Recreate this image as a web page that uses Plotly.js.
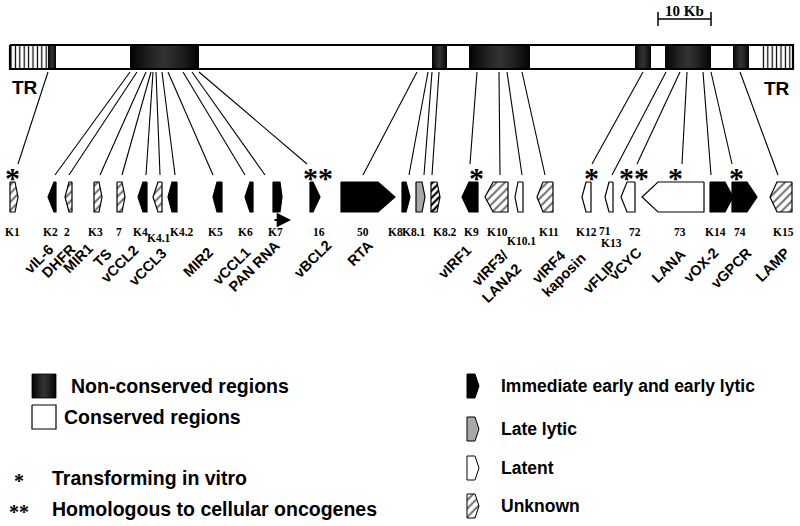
<!DOCTYPE html>
<html><head><meta charset="utf-8">
<script src="https://cdn.plot.ly/plotly-3.0.1.min.js"></script>
<style>html,body{margin:0;padding:0;background:#fff}</style>
</head><body><div id="chart" style="width:800px;height:526px"></div>
<script>
// ---------- genome map (diagram units across the page) ----------
const genomeStart = 10, genomeEnd = 793;
const trLeft = [10, 48];
const trRight = [762, 793];
const ncStart = [48, 130, 432, 469, 635, 665, 733];
const ncEnd   = [56, 199, 447, 530, 651, 711, 749];
const scaleBar = [658, 711];   // 10 Kb

// ---------- genes ----------
const geneIds  = ['K1','K2','2','K3','7','K4','K4.1','K4.2','K5','K6','K7','16','50','K8','K8.1','K8.2','K9','K10','K10.1','K11','K12','71','72','73','K14','74','K15'];
const geneAltIds = ['','','','','','','','','','','','','','','','','','','','','','K13','','','','',''];
const geneNames= ['','vIL-6','DHFR','MIR1','TS','vCCL2','vCCL3','','MIR2','vCCL1','PAN RNA','vBCL2','RTA','','gpK8.1','','vIRF1','vIRF3/<br>LANA2','','vIRF4','kaposin','vFLIP','vCYC','LANA','vOX-2','vGPCR','LAMP'];
const geneClass= ['U','E','U','U','U','E','U','E','E','E','E','E','E','E','L','B','E','U','T','U','T','T','T','T','E','E','U'];
const geneX0   = [10,48,65,94,117,138,153,168,213,245,273,310,341,402,416,431,462,485,515,537,582,605,621,642,710,732,770];
const geneX1   = [18,56,72,102,125,147,162,177,222,253,282,320,395,410,425,440,478,508,523,553,591,613,635,704,733,757,792];
const geneDir  = [1,-1,-1,1,1,-1,-1,-1,-1,-1,1,1,1,1,1,1,-1,-1,-1,-1,-1,-1,-1,-1,1,1,-1];
const genePoint= [3,6,4,3,3,5,5,4,4,5,2,7,17,4,3,3,7,8,3,6,4,4,6,16,8,10,7];
const geneMapX = [48,130,137,146,151,153,156,162,168,183,192,199,417,428,432,439,477,499,507,522,643,666,680,687,703,711,740];
const lineTarget=[18,55,69,100,122,146,160,175,213,245,265,307,363,409,424,432,470,500,522,545,592,612,637,682,711,732,778];
const geneMark = ['*','','','','','','','','','','','**','','','','','*','','','','*','','**','*','','*',''];
const markX    = [12,0,0,0,0,0,0,0,0,0,0,318,0,0,0,0,476,0,0,0,591,0,634,675,0,736,0];

// label placement
const idX = [12,50,67,95,119,140,159,182,215,245,275,319,363,395,414,445,471,497,521,549,586,605,635,680,715,740,783];
const idY = [232,232,232,232,232,232,238,232,232,232,232,232,232,232,232,232,232,232,241,232,232,231,232,232,232,232,232];
const altIdX = [0,0,0,0,0,0,0,0,0,0,0,0,0,0,0,0,0,0,0,0,0,611,0,0,0,0,0];
const nameEndX = [0,58,80,98,116,143,171,0,218,255,285,336,378,420,0,0,476,526,0,570,590,621,646,690,723,756,794];
const nameTopY = [0,240,239,239,244,241,244,0,243,243,236,236,236,236,0,0,241,246,0,246,248,256,243,244,243,243,243];

// ---------- legend ----------
const legendRegions = ['Non-conserved regions','Conserved regions'];
const legendRegionY = [386, 417];
const legendGenes = ['Immediate early and early lytic','Late lytic','Latent','Unknown'];
const legendGeneClass = ['E','L','T','U'];
const legendGeneY = [386, 429, 468, 506];
const legendMarks = ['*','**'];
const legendMarkText = ['Transforming in vitro','Homologous to cellular oncogenes'];
const legendMarkY = [478, 509];

// ---------- geometry ----------
const barTop = 45, barBot = 69;
const geneTop = 182, geneBot = 212;
const styles = {
  E:{fillcolor:'#000'},
  L:{fillcolor:'#a8a8a8'},
  T:{fillcolor:'#fff'},
  U:{fillcolor:'#fff', fillpattern:{shape:'/', size:6, solidity:0.35, fgcolor:'#707070', bgcolor:'#fff'}},
  B:{fillcolor:'#fff', fillpattern:{shape:'/', size:5, solidity:0.45, fgcolor:'#000', bgcolor:'#fff'}}
};
const traces = [];
const ann = [];
function rect(x0,x1,y0,y1){return {x:[x0,x1,x1,x0,x0], y:[y0,y0,y1,y1,y0]};}
function arrowPath(x0,x1,y0,y1,dir,p){
  const m=(y0+y1)/2;
  if(dir>0) return {x:[x0,x1-p,x1,x1-p,x0,x0], y:[y0,y0,m,y1,y1,y0]};
  return {x:[x1,x0+p,x0,x0+p,x1,x1], y:[y0,y0,m,y1,y1,y0]};
}
function addShape(path, cls, lw){
  const s = styles[cls];
  const t = {type:'scatter', mode:'lines', x:path.x, y:path.y, fill:'toself',
    fillcolor:s.fillcolor, line:{color:'#000', width:lw||1.2}, hoverinfo:'skip'};
  if(s.fillpattern) t.fillpattern = s.fillpattern;
  traces.push(t);
}
const darkGrad = {type:'horizontal', colorscale:[[0,'#020202'],[0.25,'#1e1e1e'],[0.5,'#333'],[0.75,'#1e1e1e'],[1,'#020202']]};

// terminal repeats
[trLeft, trRight].forEach(tr=>{
  const r = rect(tr[0], tr[1], barTop, barBot);
  traces.push({type:'scatter', mode:'lines', x:r.x, y:r.y, fill:'toself', fillcolor:'#fff',
    fillpattern:{shape:'|', size:4.4, solidity:0.28, fgcolor:'#000', bgcolor:'#fff'},
    line:{width:0, color:'rgba(0,0,0,0)'}, hoverinfo:'skip'});
});
// non-conserved regions
ncStart.forEach((s,i)=>{
  const r = rect(s, ncEnd[i], barTop, barBot);
  traces.push({type:'scatter', mode:'lines', x:r.x, y:r.y, fill:'toself', fillgradient:darkGrad,
    line:{width:0, color:'rgba(0,0,0,0)'}, hoverinfo:'skip'});
});
// genome outline
{
  const r = rect(genomeStart, genomeEnd, barTop, barBot);
  traces.push({type:'scatter', mode:'lines', x:r.x, y:r.y, line:{color:'#000', width:2.2}, hoverinfo:'skip'});
}
// connector lines
{
  const lx=[], ly=[];
  geneIds.forEach((g,i)=>{
    const bottom = geneMark[i] ? 164 : 175;
    lx.push(geneMapX[i], lineTarget[i], null);
    ly.push(72, bottom, null);
  });
  traces.push({type:'scatter', mode:'lines', x:lx, y:ly, line:{color:'#000', width:1.1}, hoverinfo:'skip'});
}
// gene arrows
geneIds.forEach((g,i)=>{
  addShape(arrowPath(geneX0[i], geneX1[i], geneTop, geneBot, geneDir[i], genePoint[i]), geneClass[i]);
});
// scale bar
traces.push({type:'scatter', mode:'lines',
  x:[scaleBar[0],scaleBar[1],null,scaleBar[0],scaleBar[0],null,scaleBar[1],scaleBar[1]],
  y:[19,19,null,12,26,null,12,26], line:{color:'#000', width:1.5}, hoverinfo:'skip'});
ann.push({x:(scaleBar[0]+scaleBar[1])/2, y:11, text:'<b>10 Kb</b>', showarrow:false,
  font:{family:'Liberation Serif', size:15, color:'#000'}});
// TR labels
ann.push({x:25, y:87, text:'<b>TR</b>', showarrow:false, font:{family:'Liberation Sans', size:19, color:'#000'}});
ann.push({x:777, y:88, text:'<b>TR</b>', showarrow:false, font:{family:'Liberation Sans', size:19, color:'#000'}});

// PAN RNA transcript arrow
{
  const i = geneIds.indexOf('K7');
  ann.push({x:geneX0[i]+18, y:220, ax:geneX0[i], ay:220, axref:'x', ayref:'y', xref:'x', yref:'y',
    text:'', showarrow:true, arrowhead:2, arrowsize:1.3, arrowwidth:2.2, arrowcolor:'#000'});
}
// ids, names, marks
geneIds.forEach((g,i)=>{
  ann.push({x:idX[i], y:idY[i], text:'<b>'+g+'</b>', showarrow:false,
    font:{family:'Liberation Serif', size:11.5, color:'#000'}});
  if(geneAltIds[i]) ann.push({x:altIdX[i], y:243, text:'<b>'+geneAltIds[i]+'</b>', showarrow:false,
    font:{family:'Liberation Serif', size:11.5, color:'#000'}});
  if(geneNames[i]) ann.push({x:nameEndX[i], y:nameTopY[i], text:'<b>'+geneNames[i]+'</b>', showarrow:false,
    textangle:-45, xanchor:'right', yanchor:'top', align:'right', borderpad:0,
    font:{family:'Liberation Sans', size:14.5, color:'#000'}});
  if(geneMark[i]) ann.push({x:markX[i], y:177, text:'<b>'+geneMark[i]+'</b>', showarrow:false,
    font:{family:'Liberation Serif', size:30, color:'#000'}});
});

// legend: regions
legendRegions.forEach((t,i)=>{
  const y = legendRegionY[i];
  const r = rect(32, 56, y-12, y+12);
  if(i===0) traces.push({type:'scatter', mode:'lines', x:r.x, y:r.y, fill:'toself', fillgradient:darkGrad,
      line:{width:0.8, color:'#000'}, hoverinfo:'skip'});
  else traces.push({type:'scatter', mode:'lines', x:r.x, y:r.y, line:{width:1.2, color:'#000'}, hoverinfo:'skip'});
  ann.push({x:i===0?69:62, y:y, xanchor:'left', text:'<b>'+t+'</b>', showarrow:false,
    font:{family:'Liberation Sans', size:19.5, color:'#000'}});
});
// legend: gene classes
legendGenes.forEach((t,i)=>{
  const y = legendGeneY[i];
  addShape(arrowPath(467, 479, y-12, y+12, 1, 4), legendGeneClass[i], 1);
  ann.push({x:499, y:y, xanchor:'left', text:'<b>'+t+'</b>', showarrow:false,
    font:{family:'Liberation Sans', size:17.5, color:'#000'}});
});
// legend: marks
legendMarks.forEach((m,i)=>{
  const y = legendMarkY[i];
  ann.push({x:19, y:y+3, text:'<b>'+m+'</b>', showarrow:false, font:{family:'Liberation Serif', size:20, color:'#000'}});
  ann.push({x:50, y:y, xanchor:'left', text:'<b>'+legendMarkText[i]+'</b>', showarrow:false,
    font:{family:'Liberation Sans', size:19.5, color:'#000'}});
});

const layout = {
  width:800, height:526, margin:{l:0,r:0,t:0,b:0},
  paper_bgcolor:'#fff', plot_bgcolor:'#fff', showlegend:false,
  xaxis:{range:[0,800], visible:false, fixedrange:true},
  yaxis:{range:[526,0], visible:false, fixedrange:true},
  annotations:ann
};
Plotly.newPlot('chart', traces, layout, {staticPlot:true, displayModeBar:false});
</script>
</body></html>
